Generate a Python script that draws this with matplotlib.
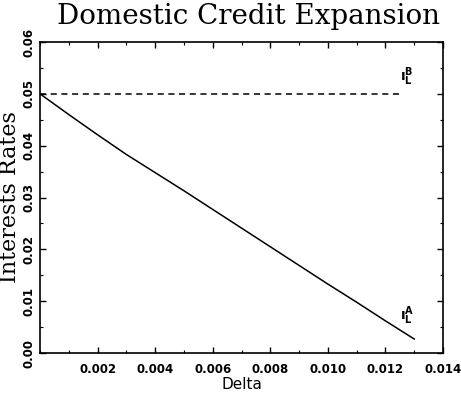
import matplotlib
matplotlib.use("Agg")
import matplotlib.pyplot as plt
from matplotlib.ticker import MultipleLocator, FormatStrFormatter

# Lending rate under domestic credit expansion
delta = [0.000, 0.001, 0.002, 0.003, 0.004, 0.005, 0.006, 0.007,
         0.008, 0.009, 0.010, 0.011, 0.012, 0.013]
rate_a = [0.0500, 0.0460, 0.0421, 0.0383, 0.0348, 0.0313, 0.0277, 0.0241,
          0.0205, 0.0169, 0.0133, 0.0098, 0.0062, 0.0027]
# Benchmark rate (flat)
delta_b = [0.000, 0.0126]
rate_b = [0.050, 0.050]

xticks = [0.002, 0.004, 0.006, 0.008, 0.010, 0.012, 0.014]
yticks = [0.00, 0.01, 0.02, 0.03, 0.04, 0.05, 0.06]

fig = plt.figure(figsize=(4.61, 3.97), dpi=100)
ax = fig.add_axes([40 / 461, 1 - 353 / 397, 403 / 461, 311 / 397])

ax.plot(delta, rate_a, color="black", lw=1.1)
ax.plot(delta_b, rate_b, color="black", lw=1.1, ls=(0, (4, 3)))

ax.set_xlim(0, 0.014)
ax.set_ylim(0, 0.06)
ax.set_xticks(xticks)
ax.set_yticks(yticks)
ax.xaxis.set_minor_locator(MultipleLocator(0.001))
ax.yaxis.set_minor_locator(MultipleLocator(0.005))
ax.xaxis.set_major_formatter(FormatStrFormatter("%.3f"))
ax.yaxis.set_major_formatter(FormatStrFormatter("%.2f"))
ax.tick_params(which="both", direction="in", top=True, right=True)
ax.tick_params(which="major", length=4, width=1)
ax.tick_params(which="minor", length=2, width=0.8)
ax.tick_params(axis="x", labelsize=8.5, pad=7)
ax.tick_params(axis="y", labelsize=8.5, pad=3)
for lab in ax.get_xticklabels():
    lab.set_fontweight("bold")
for lab in ax.get_yticklabels():
    lab.set_fontweight("bold")
    lab.set_rotation(90)
    lab.set_va("center")
for s in ax.spines.values():
    s.set_linewidth(1.2)

ax.text(0.01250, 0.0512, r"$\mathbf{\imath_L^B}$", fontsize=10, ha="left", va="bottom")
ax.text(0.01250, 0.0050, r"$\mathbf{\imath_L^A}$", fontsize=10, ha="left", va="bottom")

ax.set_xlabel("Delta", fontsize=11, fontweight="medium", labelpad=1)
ax.set_ylabel("Interests Rates", fontsize=16, family="DejaVu Serif", labelpad=1)
fig.text(248 / 461, 1 - 16 / 397, "Domestic Credit Expansion", fontsize=20,
         family="DejaVu Serif", ha="center", va="center")

fig.savefig("out.png", dpi=100)
